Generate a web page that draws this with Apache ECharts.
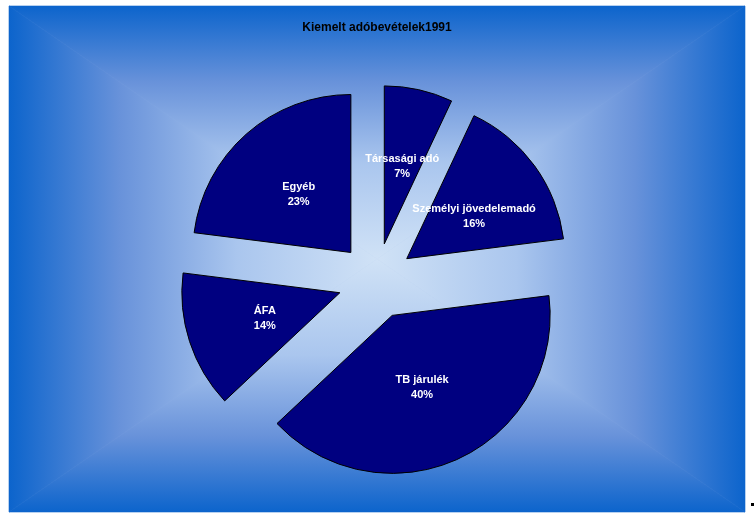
<!DOCTYPE html>
<html>
<head>
<meta charset="utf-8">
<script src="https://cdn.jsdelivr.net/npm/echarts@6/dist/echarts.min.js"></script>
<style>
  html, body { margin: 0; padding: 0; background: #ffffff; }
  #chart { width: 754px; height: 514px; }
</style>
</head>
<body>
<div id="chart"></div>
<script>
// Selected tax revenues, 1991 (share of total, %)
const categories = ['Társasági adó', 'Személyi jövedelemadó', 'TB járulék', 'ÁFA', 'Egyéb'];
const shares = [7, 16, 40, 14, 23];
const titleText = 'Kiemelt adóbevételek1991';

const chart = echarts.init(document.getElementById('chart'), null, { renderer: 'canvas' });

// Frame of the plot background
const X0 = 9, Y0 = 6, X1 = 745, Y1 = 512;
const CX = (X0 + X1) / 2, CY = (Y0 + Y1) / 2;

// Rectangular "from centre" gradient: dark blue edges to pale centre
const stops = [
  { offset: 0, color: '#0c64cc' },
  { offset: 0.3, color: '#6892da' },
  { offset: 0.62, color: '#aac6ee' },
  { offset: 1, color: '#d0e2f6' }
];
function grad(x, y, x2, y2) {
  return { type: 'linear', x: x, y: y, x2: x2, y2: y2, colorStops: stops, global: false };
}

const bgElements = [
  { type: 'rect', silent: true, z: -10, shape: { x: X0, y: Y0, width: X1 - X0, height: Y1 - Y0 },
    style: { fill: '#9ab8e6' } },
  { type: 'polygon', silent: true, z: -9, shape: { points: [[X0, Y0], [X1, Y0], [CX, CY]] },
    style: { fill: grad(0, 0, 0, 1), stroke: grad(0, 0, 0, 1), lineWidth: 0.6 } },
  { type: 'polygon', silent: true, z: -9, shape: { points: [[X0, Y1], [X1, Y1], [CX, CY]] },
    style: { fill: grad(0, 1, 0, 0), stroke: grad(0, 1, 0, 0), lineWidth: 0.6 } },
  { type: 'polygon', silent: true, z: -9, shape: { points: [[X0, Y0], [X0, Y1], [CX, CY]] },
    style: { fill: grad(0, 0, 1, 0), stroke: grad(0, 0, 1, 0), lineWidth: 0.6 } },
  { type: 'polygon', silent: true, z: -9, shape: { points: [[X1, Y0], [X1, Y1], [CX, CY]] },
    style: { fill: grad(1, 0, 0, 0), stroke: grad(1, 0, 0, 0), lineWidth: 0.6 } },
  // small mark beside the frame's lower right corner
  { type: 'rect', silent: true, z: -8, shape: { x: 751, y: 503, width: 3, height: 3 },
    style: { fill: '#000000' } }
];

const sliceStyle = { color: '#000080', borderColor: '#000000', borderWidth: 1 };

// small per-slice label nudges (px) so the captions sit a bit off the mid-radius point
const labelNudge = [[0, 3], [1, 6], [-5, -2], [3, 0], [2, 3]];

chart.setOption({
  animation: false,
  backgroundColor: '#ffffff',
  title: {
    text: titleText,
    left: 'center',
    top: 17,
    textStyle: { fontFamily: 'Liberation Sans, Arial, sans-serif', fontSize: 12, fontWeight: 'bold', color: '#000000' }
  },
  graphic: { elements: bgElements },
  series: [{
    type: 'pie',
    center: [376, 281],
    radius: 158,
    startAngle: 90,
    clockwise: true,
    avoidLabelOverlap: false,
    selectedMode: 'multiple',
    selectedOffset: 38,
    itemStyle: sliceStyle,
    emphasis: { disabled: true, scale: false },
    select: { itemStyle: sliceStyle, label: { show: true } },
    labelLine: { show: false },
    label: {
      show: true,
      position: 'inner',
      color: '#ffffff',
      fontFamily: 'Liberation Sans, Arial, sans-serif',
      fontSize: 11,
      fontWeight: 'bold',
      lineHeight: 15,
      // narrow layout box so the label of a thin slice is still placed
      width: 10,
      overflow: 'none',
      formatter: p => p.name + '\n' + Math.round(p.percent) + '%'
    },
    labelLayout: p => {
      const n = labelNudge[p.dataIndex] || [0, 0];
      return { dx: n[0], dy: n[1], hideOverlap: false };
    },
    data: categories.map((c, i) => ({ name: c, value: shares[i], selected: true }))
  }]
});
</script>
</body>
</html>
